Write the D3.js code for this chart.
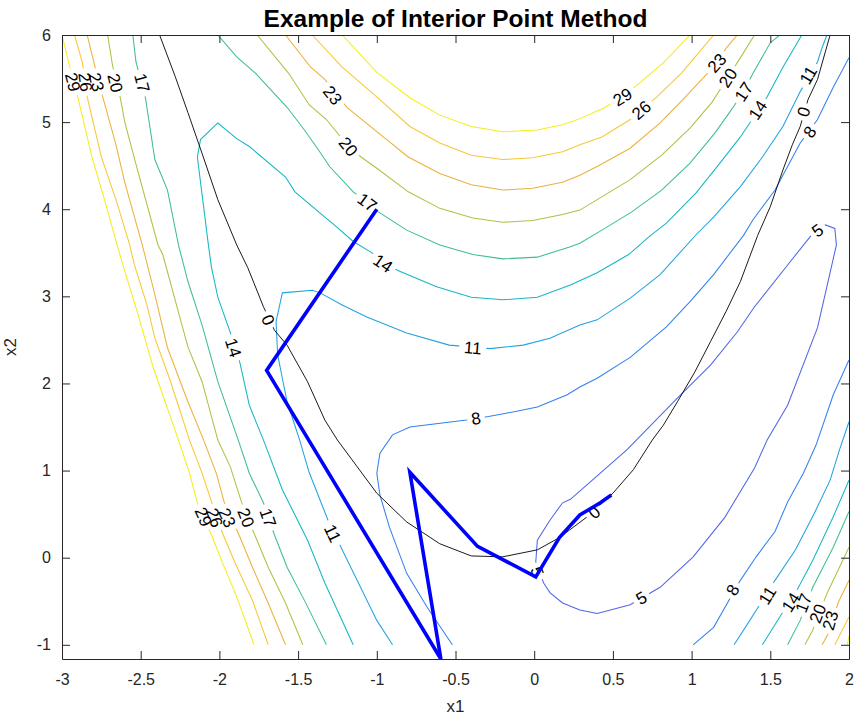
<!DOCTYPE html>
<html>
<head>
<meta charset="utf-8">
<script src="https://cdn.jsdelivr.net/npm/d3@7"></script>
<style>
  body { margin: 0; background: #fff; }
  text { font-family: Arial, "Liberation Sans", Helvetica, sans-serif; }
</style>
</head>
<body>
<script>
// contour levels and their colours (parula-like)
const levels = [5, 8, 11, 14, 17, 20, 23, 26, 29];
const levelColors = ['#4f66ea', '#3380f2', '#22a2e2', '#14b7c4', '#3fbf8c', '#a8c545', '#ebb13c', '#f7c834', '#f4ee1c'];

// contour branches as [x1, x2]
const c29Left = [[-3.0,6.0],[-2.95,5.63],[-2.90,5.29],[-2.81,4.60],[-2.73,4.11],[-2.65,3.59],[-2.60,3.28],[-2.52,2.81],[-2.42,2.18],[-2.26,1.35],[-2.19,0.97],[-2.14,0.63],[-2.05,0.26],[-1.98,-0.06],[-1.89,-0.45],[-1.78,-1.0]];
const c29Top = [[-1.22,6.0],[-1.0,5.57],[-0.79,5.28],[-0.60,5.08],[-0.40,4.95],[-0.20,4.89],[0.02,4.91],[0.18,4.97],[0.29,5.04],[0.44,5.16],[0.56,5.29],[0.67,5.45],[0.82,5.68],[0.99,6.0]];
const c29Right = [[1.99,-1.0],[2.0,-0.9]];

const c26Left = [[-2.92,6.0],[-2.87,5.68],[-2.84,5.29],[-2.75,4.60],[-2.65,4.07],[-2.57,3.59],[-2.54,3.36],[-2.46,2.90],[-2.41,2.52],[-2.31,2.02],[-2.19,1.35],[-2.11,0.97],[-2.05,0.64],[-1.98,0.28],[-1.90,-0.06],[-1.79,-0.49],[-1.69,-1.0]];
const c26Top = [[-1.41,6.0],[-1.22,5.63],[-1.0,5.29],[-0.79,4.95],[-0.60,4.76],[-0.40,4.62],[-0.20,4.57],[-0.01,4.59],[0.18,4.66],[0.29,4.74],[0.43,4.83],[0.61,5.03],[0.68,5.14],[0.78,5.29],[0.94,5.57],[1.14,6.0]];
const c26Right = [[1.91,-1.0],[2.0,-0.68]];

const c23Left = [[-2.84,6.0],[-2.79,5.63],[-2.74,5.28],[-2.66,4.76],[-2.60,4.30],[-2.49,3.59],[-2.41,3.02],[-2.33,2.41],[-2.20,1.79],[-2.10,1.35],[-2.02,0.97],[-1.97,0.64],[-1.88,0.28],[-1.79,-0.11],[-1.69,-0.52],[-1.58,-1.0]];
const c23Top = [[-1.58,6.0],[-1.42,5.63],[-1.33,5.49],[-1.19,5.17],[-1.0,4.89],[-0.80,4.60],[-0.60,4.41],[-0.40,4.28],[-0.20,4.22],[-0.01,4.24],[0.18,4.31],[0.29,4.39],[0.40,4.49],[0.61,4.70],[0.80,4.99],[0.94,5.25],[1.08,5.52],[1.16,5.68],[1.22,5.85],[1.29,6.0]];
const c23Right = [[1.83,-1.0],[1.88,-0.83],[1.93,-0.52],[2.0,-0.26]];

const c20Left = [[-2.71,6.0],[-2.68,5.66],[-2.63,5.28],[-2.60,4.99],[-2.52,4.45],[-2.39,3.59],[-2.36,3.48],[-2.20,2.42],[-2.11,2.02],[-2.01,1.35],[-1.93,1.04],[-1.86,0.64],[-1.78,0.28],[-1.69,-0.11],[-1.58,-0.52],[-1.47,-1.0]];
const c20Top = [[-1.76,6.0],[-1.56,5.56],[-1.43,5.20],[-1.32,5.03],[-1.18,4.72],[-1.10,4.60],[-1.0,4.47],[-0.80,4.20],[-0.60,4.01],[-0.39,3.90],[-0.20,3.85],[-0.01,3.87],[0.18,3.94],[0.29,3.99],[0.40,4.11],[0.61,4.34],[0.81,4.62],[0.99,4.93],[1.13,5.23],[1.23,5.51],[1.31,5.74],[1.40,6.0]];
const c20Right = [[1.72,-1.0],[1.77,-0.83],[1.86,-0.41],[2.0,0.12]];

const c17Left = [[-2.55,6.0],[-2.53,5.69],[-2.47,5.28],[-2.41,4.57],[-2.33,4.22],[-2.26,3.59],[-2.20,3.17],[-2.11,2.67],[-2.01,2.02],[-1.88,1.35],[-1.81,0.97],[-1.72,0.63],[-1.65,0.26],[-1.57,-0.11],[-1.46,-0.49],[-1.32,-1.0]];
const c17Top = [[-2.01,6.0],[-1.89,5.75],[-1.77,5.56],[-1.57,5.17],[-1.46,4.91],[-1.37,4.68],[-1.30,4.49],[-1.15,4.20],[-1.06,4.08],[-0.99,3.97],[-0.81,3.76],[-0.60,3.59],[-0.39,3.48],[-0.20,3.43],[0.02,3.45],[0.23,3.57],[0.29,3.61],[0.43,3.76],[0.62,3.97],[0.81,4.22],[0.99,4.53],[1.15,4.88],[1.26,5.16],[1.33,5.35],[1.39,5.56],[1.50,5.91],[1.56,6.0]];
const c17Right = [[1.61,-1.0],[1.69,-0.72],[1.77,-0.34],[1.90,0.12],[2.0,0.53]];

const c14Main = [[-1.15,-1.0],[-1.33,-0.29],[-1.44,0.20],[-1.60,0.78],[-1.72,1.35],[-1.81,1.75],[-1.87,2.24],[-1.93,2.58],[-2.01,2.99],[-2.05,3.33],[-2.07,3.59],[-2.14,4.60],[-2.12,4.80],[-2.01,4.99],[-1.89,4.81],[-1.81,4.72],[-1.58,4.37],[-1.52,4.20],[-1.33,3.91],[-1.27,3.82],[-1.15,3.63],[-1.04,3.51],[-0.87,3.30],[-0.62,3.11],[-0.40,2.99],[-0.20,2.96],[0.02,2.99],[0.23,3.13],[0.40,3.27],[0.60,3.48],[0.74,3.70],[0.84,3.84],[1.03,4.19],[1.18,4.53],[1.31,4.83],[1.48,5.29],[1.58,5.63],[1.70,6.0]];
const c14Right = [[1.45,-1.0],[1.56,-0.68],[1.67,-0.37],[1.77,-0.03],[1.90,0.47],[2.0,0.89]];

const c11Main = [[-0.90,-1.0],[-1.0,-0.72],[-1.22,0.09],[-1.31,0.43],[-1.43,0.98],[-1.49,1.35],[-1.57,1.79],[-1.60,2.06],[-1.63,2.33],[-1.64,2.71],[-1.60,3.04],[-1.41,3.07],[-1.36,3.04],[-1.22,2.90],[-1.06,2.76],[-0.81,2.58],[-0.54,2.44],[-0.28,2.40],[-0.07,2.44],[0.10,2.52],[0.29,2.67],[0.40,2.73],[0.61,2.98],[0.80,3.25],[1.03,3.71],[1.14,3.91],[1.31,4.26],[1.45,4.60],[1.58,4.95],[1.69,5.35],[1.80,5.69],[1.83,5.86],[1.86,6.0]];
const c11Right = [[1.27,-1.0],[1.37,-0.72],[1.53,-0.26],[1.66,0.09],[1.78,0.51],[1.88,0.89],[1.94,1.24],[2.0,1.56]];

const c8Main = [[-0.52,-1.0],[-0.68,-0.57],[-0.81,-0.18],[-0.92,0.35],[-0.98,0.72],[-1.0,0.97],[-0.98,1.20],[-0.90,1.41],[-0.79,1.50],[-0.43,1.58],[-0.29,1.62],[-0.17,1.66],[0.02,1.73],[0.21,1.87],[0.29,1.96],[0.40,2.06],[0.61,2.30],[0.84,2.65],[0.99,2.94],[1.14,3.25],[1.33,3.70],[1.39,3.88],[1.53,4.22],[1.61,4.49],[1.69,4.76],[1.80,5.03],[1.90,5.40],[2.0,5.74]];
const c8Right = [[1.01,-1.0],[1.14,-0.80],[1.31,-0.26],[1.41,0.01],[1.53,0.30],[1.61,0.64],[1.71,0.97],[1.79,1.29],[1.90,1.87],[2.0,2.27]];

const c5Loop = [[1.76,3.70],[1.61,3.36],[1.40,2.88],[1.29,2.59],[1.12,2.21],[0.93,1.87],[0.59,1.24],[0.23,0.67],[0.18,0.63],[0.10,0.43],[0.02,0.20],[0.01,-0.05],[0.06,-0.29],[0.10,-0.40],[0.18,-0.52],[0.29,-0.60],[0.40,-0.64],[0.61,-0.54],[0.80,-0.34],[1.01,0.01],[1.21,0.46],[1.40,1.03],[1.48,1.35],[1.61,1.75],[1.80,2.64],[1.92,3.59],[1.91,3.78],[1.85,3.82],[1.76,3.70]];

// constraint curve (level 0), drawn in black
const constraint0 = [[-2.38,6.0],[-2.28,5.52],[-2.20,5.11],[-2.11,4.64],[-2.01,4.11],[-1.89,3.59],[-1.82,3.33],[-1.72,2.88],[-1.65,2.61],[-1.57,2.44],[-1.44,2.02],[-1.33,1.58],[-1.25,1.35],[-1.0,0.74],[-0.81,0.41],[-0.60,0.16],[-0.40,0.02],[-0.20,0.01],[0.02,0.09],[0.16,0.23],[0.33,0.46],[0.50,0.74],[0.63,1.01],[0.75,1.35],[0.82,1.52],[0.91,1.79],[1.02,2.13],[1.12,2.48],[1.22,2.83],[1.31,3.17],[1.42,3.70],[1.50,4.03],[1.58,4.45],[1.64,4.74],[1.69,4.95],[1.74,5.26],[1.80,5.49],[1.88,6.0]];

// iterates of the interior point method
const pathX1 = [-1.0, -1.70, -0.593, -0.79, -0.36, 0.01, 0.16, 0.29, 0.42, 0.49];
const pathX2 = [4.0, 2.15, -1.163, 0.98, 0.13, -0.22, 0.23, 0.49, 0.63, 0.72];

// inline contour labels: [level, x1, x2]
const contourLabels = [
  [29,-2.93,5.46],[26,-2.85,5.46],[23,-2.78,5.46],[20,-2.66,5.45],[17,-2.49,5.45],
  [29,-2.10,0.47],[26,-2.03,0.46],[23,-1.95,0.46],[20,-1.83,0.46],[17,-1.69,0.46],
  [29,0.56,5.29],[26,0.68,5.14],[23,-1.28,5.31],[23,1.16,5.68],[20,-1.18,4.72],[20,1.23,5.51],
  [17,-1.06,4.08],[17,1.33,5.35],[14,-1.91,2.41],[14,-0.96,3.38],[14,1.42,5.14],
  [11,-1.28,0.28],[11,-0.39,2.41],[11,1.74,5.54],[8,-0.37,1.60],[8,1.75,4.89],
  [8,1.26,-0.37],[11,1.48,-0.43],[14,1.63,-0.51],[17,1.71,-0.52],[20,1.80,-0.64],[23,1.88,-0.72],
  [5,1.80,3.76],[5,0.68,-0.46],[5,0.02,-0.16],
  [0,-1.69,2.73],[0,0.38,0.52],[0,1.71,5.12]
];

const xTicks = [-3, -2.5, -2, -1.5, -1, -0.5, 0, 0.5, 1, 1.5, 2];
const yTicks = [-1, 0, 1, 2, 3, 4, 5, 6];

// table of lines per level
const contourLines = [
  {level: 29, pts: c29Left}, {level: 29, pts: c29Top}, {level: 29, pts: c29Right},
  {level: 26, pts: c26Left}, {level: 26, pts: c26Top}, {level: 26, pts: c26Right},
  {level: 23, pts: c23Left}, {level: 23, pts: c23Top}, {level: 23, pts: c23Right},
  {level: 20, pts: c20Left}, {level: 20, pts: c20Top}, {level: 20, pts: c20Right},
  {level: 17, pts: c17Left}, {level: 17, pts: c17Top}, {level: 17, pts: c17Right},
  {level: 14, pts: c14Main}, {level: 14, pts: c14Right},
  {level: 11, pts: c11Main}, {level: 11, pts: c11Right},
  {level: 8, pts: c8Main}, {level: 8, pts: c8Right},
  {level: 5, pts: c5Loop},
  {level: 0, pts: constraint0}
];

const W = 854, H = 719;
const margin = {top: 35, right: 5, bottom: 60, left: 62};

const x = d3.scaleLinear().domain([-3, 2]).range([margin.left, W - margin.right]);
const y = d3.scaleLinear().domain([-1.163, 6]).range([H - margin.bottom, margin.top]);
const color = d3.scaleOrdinal().domain(levels).range(levelColors);
const lineColor = lv => lv === 0 ? '#000' : color(lv);

const svg = d3.select('body').append('svg')
  .attr('width', W).attr('height', H);

const defs = svg.append('defs');
defs.append('clipPath').attr('id', 'plotClip')
  .append('rect')
  .attr('x', x(-3)).attr('y', y(6))
  .attr('width', x(2) - x(-3)).attr('height', y(-1.163) - y(6));

const line = d3.line().x(d => x(d[0])).y(d => y(d[1]));

// work out label angle from the nearest segment of that level
function labelAngle(lv, px, py) {
  let best = Infinity, ang = 0;
  contourLines.filter(c => c.level === lv).forEach(c => {
    for (let i = 0; i < c.pts.length - 1; i++) {
      const ax = x(c.pts[i][0]), ay = y(c.pts[i][1]);
      const bx = x(c.pts[i + 1][0]), by = y(c.pts[i + 1][1]);
      const dx = bx - ax, dy = by - ay;
      const len2 = dx * dx + dy * dy || 1;
      let t = ((px - ax) * dx + (py - ay) * dy) / len2;
      t = Math.max(0, Math.min(1, t));
      const qx = ax + t * dx, qy = ay + t * dy;
      const d = (px - qx) ** 2 + (py - qy) ** 2;
      if (d < best) { best = d; ang = Math.atan2(dy, dx) * 180 / Math.PI; }
    }
  });
  if (ang > 90) ang -= 180;
  if (ang <= -90) ang += 180;
  return ang;
}

const labelFont = 17;
const labels = contourLabels.map(d => {
  const px = x(d[1]), py = y(d[2]);
  return {level: d[0], text: String(d[0]), px, py, angle: labelAngle(d[0], px, py)};
});

// one mask per level so each line is broken only by its own labels
const allLevels = [0].concat(levels);
allLevels.forEach(lv => {
  const m = defs.append('mask').attr('id', 'mask' + lv)
    .attr('maskUnits', 'userSpaceOnUse')
    .attr('x', 0).attr('y', 0).attr('width', W).attr('height', H);
  m.append('rect').attr('width', W).attr('height', H).attr('fill', '#fff');
  labels.filter(l => l.level === lv).forEach(l => {
    const w = l.text.length * 9.6 + 8, h = 15;
    m.append('rect')
      .attr('x', -w / 2).attr('y', -h / 2).attr('width', w).attr('height', h)
      .attr('fill', '#000')
      .attr('transform', `translate(${l.px},${l.py}) rotate(${l.angle})`);
  });
});

const plot = svg.append('g').attr('clip-path', 'url(#plotClip)');

plot.selectAll('path.contour')
  .data(contourLines)
  .join('path')
  .attr('class', 'contour')
  .attr('d', d => line(d.pts))
  .attr('fill', 'none')
  .attr('stroke', d => lineColor(d.level))
  .attr('stroke-width', d => d.level === 0 ? 0.9 : 1.05)
  .attr('mask', d => `url(#mask${d.level})`);

plot.selectAll('text.clabel')
  .data(labels)
  .join('text')
  .attr('class', 'clabel')
  .attr('transform', d => `translate(${d.px},${d.py}) rotate(${d.angle})`)
  .attr('text-anchor', 'middle')
  .attr('dy', '0.36em')
  .attr('font-size', labelFont)
  .attr('fill', '#000')
  .text(d => d.text);

// iterate path
const iterPts = pathX1.map((v, i) => [v, pathX2[i]]);
svg.append('path')
  .attr('d', line(iterPts))
  .attr('fill', 'none')
  .attr('stroke', '#0000ff')
  .attr('stroke-width', 3.6)
  .attr('stroke-linejoin', 'miter');

// axes
const axisColor = '#262626';
const fmt = d => String(d);
const gx = svg.append('g')
  .attr('transform', `translate(0,${y(-1.163)})`)
  .call(d3.axisBottom(x).tickValues(xTicks).tickFormat(fmt).tickSizeInner(-8).tickSizeOuter(0).tickPadding(15));
const gy = svg.append('g')
  .attr('transform', `translate(${x(-3)},0)`)
  .call(d3.axisLeft(y).tickValues(yTicks).tickFormat(fmt).tickSizeInner(-8).tickSizeOuter(0).tickPadding(11));
const gt = svg.append('g')
  .attr('transform', `translate(0,${y(6)})`)
  .call(d3.axisTop(x).tickValues(xTicks).tickFormat('').tickSizeInner(-8).tickSizeOuter(0));
const gr = svg.append('g')
  .attr('transform', `translate(${x(2)},0)`)
  .call(d3.axisRight(y).tickValues(yTicks).tickFormat('').tickSizeInner(-8).tickSizeOuter(0));

[gx, gy, gt, gr].forEach(g => {
  g.select('.domain').attr('stroke', axisColor).attr('stroke-width', 1);
  g.selectAll('.tick line').attr('stroke', axisColor).attr('stroke-width', 1);
  g.selectAll('.tick text').attr('fill', axisColor).attr('font-size', 16)
    .attr('font-family', 'Arial, "Liberation Sans", sans-serif');
});

// title and axis labels
svg.append('text')
  .attr('x', (x(-3) + x(2)) / 2).attr('y', 27)
  .attr('text-anchor', 'middle')
  .attr('font-size', 24.5).attr('font-weight', 'bold').attr('fill', '#000')
  .text('Example of Interior Point Method');

svg.append('text')
  .attr('x', (x(-3) + x(2)) / 2).attr('y', 712)
  .attr('text-anchor', 'middle')
  .attr('font-size', 17).attr('fill', axisColor)
  .text('x1');

svg.append('text')
  .attr('transform', `translate(16,${(y(6) + y(-1.163)) / 2}) rotate(-90)`)
  .attr('text-anchor', 'middle')
  .attr('font-size', 17).attr('fill', axisColor)
  .text('x2');
</script>
</body>
</html>
